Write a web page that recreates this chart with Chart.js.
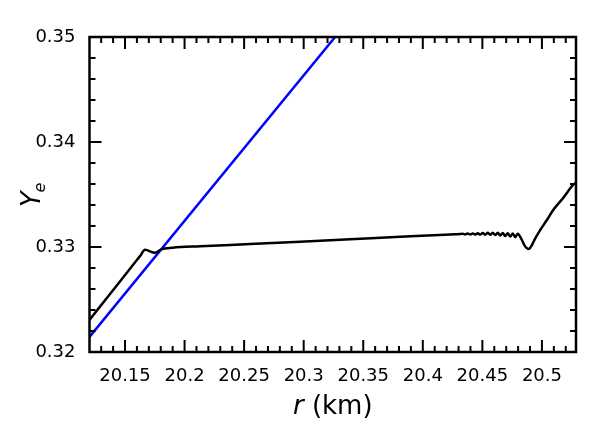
<!DOCTYPE html>
<html>
<head>
<meta charset="utf-8">
<title>Ye vs r</title>
<script src="https://cdn.jsdelivr.net/npm/chart.js@4.4.0/dist/chart.umd.min.js"></script>
<style>
    html, body { margin: 0; padding: 0; background: #ffffff; }
    #yeChart { display: block; }
</style>
</head>
<body>
<canvas id="yeChart" width="600" height="435"></canvas>
<script>
// Data
const blackR = [20.1202, 20.1290, 20.1416, 20.1542, 20.1626, 20.1668, 20.1752, 20.1803, 20.1900, 20.2130,
    20.2550, 20.2970, 20.3390, 20.3810, 20.4188,
    20.4272, 20.4314, 20.4335, 20.4356, 20.4377, 20.4398, 20.4419, 20.4440, 20.4461, 20.4482,
    20.4503, 20.4524, 20.4545, 20.4566, 20.4587, 20.4608, 20.4629, 20.4650, 20.4671, 20.4692,
    20.4713, 20.4734, 20.4755, 20.4776, 20.4797, 20.4831, 20.4856, 20.4888, 20.4917, 20.4945,
    20.4987, 20.5043, 20.5096, 20.5180, 20.5263, 20.5288];
const blackYe = [0.32305, 0.32432, 0.32612, 0.32793, 0.32913, 0.32973, 0.32945, 0.32978, 0.32993, 0.33007,
    0.33028, 0.33050, 0.33073, 0.33097, 0.33116,
    0.33121, 0.33123, 0.33127, 0.33120, 0.33128, 0.33119, 0.33129, 0.33118, 0.33131, 0.33118,
    0.33133, 0.33117, 0.33135, 0.33116, 0.33136, 0.33114, 0.33135, 0.33110, 0.33133, 0.33104,
    0.33131, 0.33099, 0.33129, 0.33094, 0.33127, 0.33069, 0.33011, 0.32980, 0.33021, 0.33085,
    0.33164, 0.33260, 0.33355, 0.33469, 0.33593, 0.33613];
const blueR = [20.1202, 20.3264];
const blueYe = [0.32143, 0.35];

const xTicks = [20.15, 20.2, 20.25, 20.3, 20.35, 20.4, 20.45, 20.5];
const xTickLabels = ['20.15', '20.2', '20.25', '20.3', '20.35', '20.4', '20.45', '20.5'];
const yTicks = [0.32, 0.33, 0.34, 0.35];
const yTickLabels = ['0.32', '0.33', '0.34', '0.35'];

const xMin = 20.1202, xMax = 20.5286;
const yMin = 0.32, yMax = 0.35;

const FONT = "'DejaVu Sans', sans-serif";

function toPoints(xs, ys) {
    return xs.map((v, i) => ({ x: v, y: ys[i] }));
}

// frame, inward ticks on all four sides, and axis titles
const frameAndTitles = {
    id: 'frameAndTitles',
    afterDatasetsDraw(chart) {
        const { ctx, chartArea: a, scales: { x, y } } = chart;
        ctx.save();
        ctx.strokeStyle = '#000';
        ctx.lineWidth = 2;
        ctx.beginPath();
        for (let i = 13; i <= 52; i++) {
            const px = x.getPixelForValue(20 + i / 100);
            const len = i % 5 === 0 ? 12 : 6;
            ctx.moveTo(px, a.bottom); ctx.lineTo(px, a.bottom - len);
            ctx.moveTo(px, a.top); ctx.lineTo(px, a.top + len);
        }
        for (let i = 0; i <= 15; i++) {
            const py = y.getPixelForValue(0.32 + i * 0.002);
            const len = i % 5 === 0 ? 12 : 6;
            ctx.moveTo(a.left, py); ctx.lineTo(a.left + len, py);
            ctx.moveTo(a.right, py); ctx.lineTo(a.right - len, py);
        }
        ctx.stroke();
        ctx.lineWidth = 2.5;
        ctx.strokeRect(a.left, a.top, a.right - a.left, a.bottom - a.top);

        // x title: italic r + " (km)"
        ctx.fillStyle = '#000';
        ctx.textBaseline = 'middle';
        ctx.textAlign = 'left';
        ctx.font = 'italic 26px ' + FONT;
        const wR = ctx.measureText('r').width;
        ctx.font = '26px ' + FONT;
        const wKm = ctx.measureText(' (km)').width;
        let tx = (a.left + a.right) / 2 - (wR + wKm) / 2;
        ctx.font = 'italic 26px ' + FONT;
        ctx.fillText('r', tx, 407);
        ctx.font = '26px ' + FONT;
        ctx.fillText(' (km)', tx + wR, 407);

        // y title: italic Y with subscript e, rotated
        ctx.translate(30, (a.top + a.bottom) / 2);
        ctx.rotate(-Math.PI / 2);
        ctx.textBaseline = 'alphabetic';
        ctx.font = 'italic 26px ' + FONT;
        const wY = ctx.measureText('Y').width;
        ctx.font = 'italic 16px ' + FONT;
        const wE = ctx.measureText('e').width;
        const sx = -(wY + wE) / 2;
        ctx.font = 'italic 26px ' + FONT;
        ctx.fillText('Y', sx, 10);
        ctx.font = 'italic 16px ' + FONT;
        ctx.fillText('e', sx + wY - 1, 15);
        ctx.restore();
    }
};

const ctx = document.getElementById('yeChart').getContext('2d');
const yeChart = new Chart(ctx, {
    type: 'line',
    data: {
        datasets: [{
            label: 'Ye',
            data: toPoints(blackR, blackYe),
            borderColor: '#000000',
            borderWidth: 2.5,
            pointRadius: 0,
            cubicInterpolationMode: 'monotone',
            fill: false
        }, {
            label: 'blue',
            data: toPoints(blueR, blueYe),
            borderColor: '#0000ff',
            borderWidth: 2.5,
            pointRadius: 0,
            tension: 0,
            fill: false
        }]
    },
    options: {
        responsive: false,
        animation: false,
        layout: { padding: { left: 0, right: 24, top: 37, bottom: 0 } },
        plugins: {
            legend: { display: false },
            tooltip: { enabled: false }
        },
        scales: {
            x: {
                type: 'linear',
                min: xMin,
                max: xMax,
                afterBuildTicks: scale => { scale.ticks = xTicks.map(v => ({ value: v })); },
                afterFit: scale => { scale.height = 83; },
                grid: { display: false, drawTicks: false },
                border: { display: false },
                ticks: {
                    color: '#000',
                    padding: 14,
                    maxRotation: 0,
                    autoSkip: false,
                    font: { family: FONT, size: 18 },
                    callback: (v, i) => xTickLabels[i]
                }
            },
            y: {
                type: 'linear',
                min: yMin,
                max: yMax,
                afterBuildTicks: scale => { scale.ticks = yTicks.map(v => ({ value: v })); },
                afterFit: scale => { scale.width = 89.5; },
                grid: { display: false, drawTicks: false },
                border: { display: false },
                ticks: {
                    color: '#000',
                    padding: 14,
                    autoSkip: false,
                    font: { family: FONT, size: 18 },
                    callback: (v, i) => yTickLabels[i]
                }
            }
        }
    },
    plugins: [frameAndTitles]
});
</script>
</body>
</html>
